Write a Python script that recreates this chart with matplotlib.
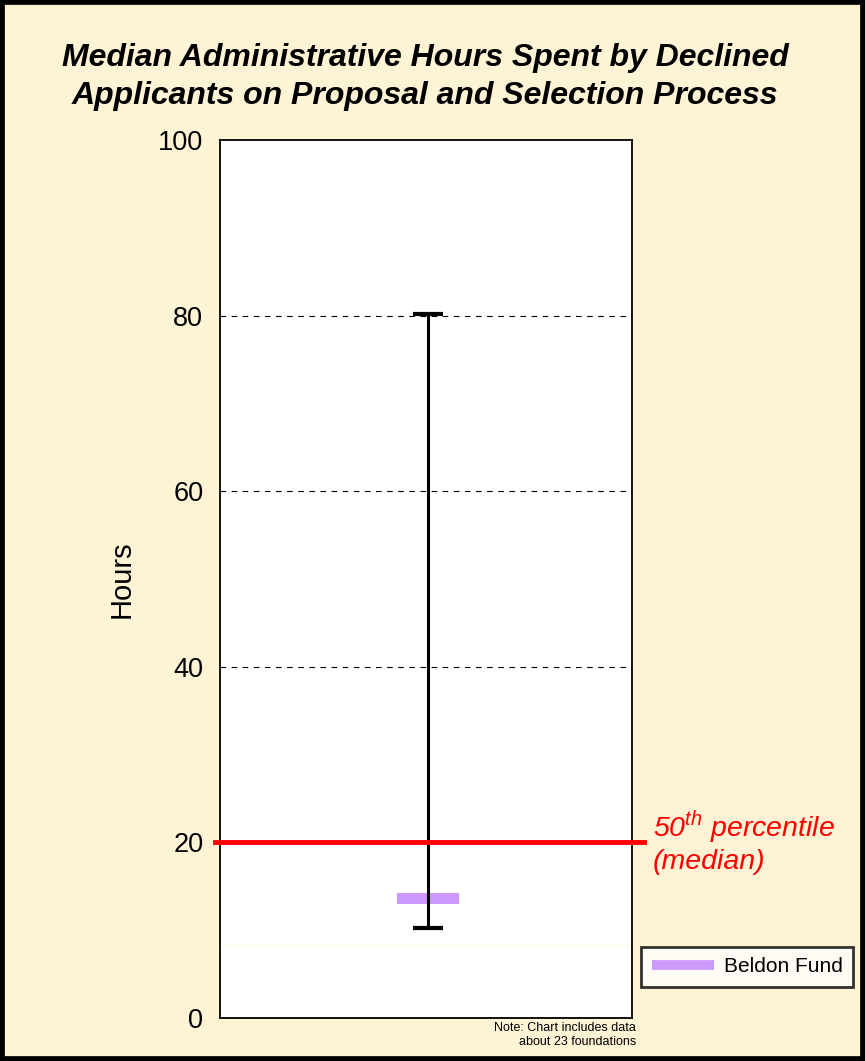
import matplotlib.pyplot as plt
from matplotlib.patches import Rectangle
from matplotlib.lines import Line2D

plt.rcParams['font.family'] = ['Liberation Sans', 'DejaVu Sans']

# data
range_low = 10.2
range_high = 80.2
median_all = 20
fund_name = "Beldon Fund"
fund_value = 13.6
n_foundations = 23
yticks = [0, 20, 40, 60, 80, 100]

bg = "#FFF3D6"
purple = "#CC99FF"

fig = plt.figure(figsize=(8.65, 10.61), dpi=100, facecolor=bg)
ax = fig.add_axes([220 / 865, 1 - 1018 / 1061, 412 / 865, 878 / 1061])
ax.set_facecolor("white")
ax.set_xlim(0, 1)
ax.set_ylim(0, 100)
ax.set_xticks([])
ax.set_yticks(yticks)
ax.tick_params(axis="y", length=0, labelsize=19.5, pad=12)
for s in ax.spines.values():
    s.set_linewidth(1.3)

for g in [40, 60, 80]:
    ax.axhline(g, color="black", lw=0.8, ls=(0, (5, 5)), zorder=1)

# faint line seen in the original
ax.axhline(8.3, color="#FFF6E4", lw=1, zorder=1)

# range bar across foundations
x0 = 0.505
ax.errorbar([x0], [(range_low + range_high) / 2],
            yerr=[[(range_high - range_low) / 2]], fmt="none",
            ecolor="black", elinewidth=2.2, capsize=10.8, capthick=3, zorder=3)

# fund marker
ax.add_patch(Rectangle((x0 - 0.075, fund_value - 0.65), 0.15, 1.3,
                       facecolor=purple, edgecolor="none", zorder=2))

# median line, runs a bit past the plot on both sides
ax.add_line(Line2D([-0.012, 1.03], [median_all, median_all], color="#FF0000",
                   lw=3.5, zorder=4, clip_on=False))

ax.text(1.05, 19.6, r"50$^{\mathregular{th}}$ percentile", color="#FF0000",
        fontsize=20.5, style="italic", ha="left", va="bottom", clip_on=False)
ax.text(1.05, 19.3, "(median)", color="#FF0000", fontsize=20.5,
        style="italic", ha="left", va="top", clip_on=False)

ax.set_ylabel("Hours", fontsize=21, labelpad=16)

fig.text(425 / 865, 1 - 77 / 1061,
         "Median Administrative Hours Spent by Declined\nApplicants on Proposal and Selection Process",
         ha="center", va="center", fontsize=23, fontweight="bold",
         style="italic", linespacing=1.35)

fig.text(636 / 865, 1 - 1035 / 1061,
         "Note: Chart includes data\nabout %d foundations" % n_foundations,
         ha="right", va="center", fontsize=9)

leg = fig.legend(handles=[Line2D([0], [0], color=purple, lw=7,
                                 solid_capstyle="butt")],
                 labels=[fund_name], loc="center",
                 bbox_to_anchor=(747 / 865, 1 - 967 / 1061),
                 fontsize=15, frameon=True, fancybox=False,
                 edgecolor="black", handlelength=3.0, borderpad=0.5,
                 handletextpad=0.45)
leg.get_frame().set_linewidth(2)

# outer black border
fig.add_artist(Rectangle((0, 0), 1, 1, transform=fig.transFigure,
                         fill=False, edgecolor="black", lw=7))

fig.savefig("out.png", dpi=100, facecolor=bg)
